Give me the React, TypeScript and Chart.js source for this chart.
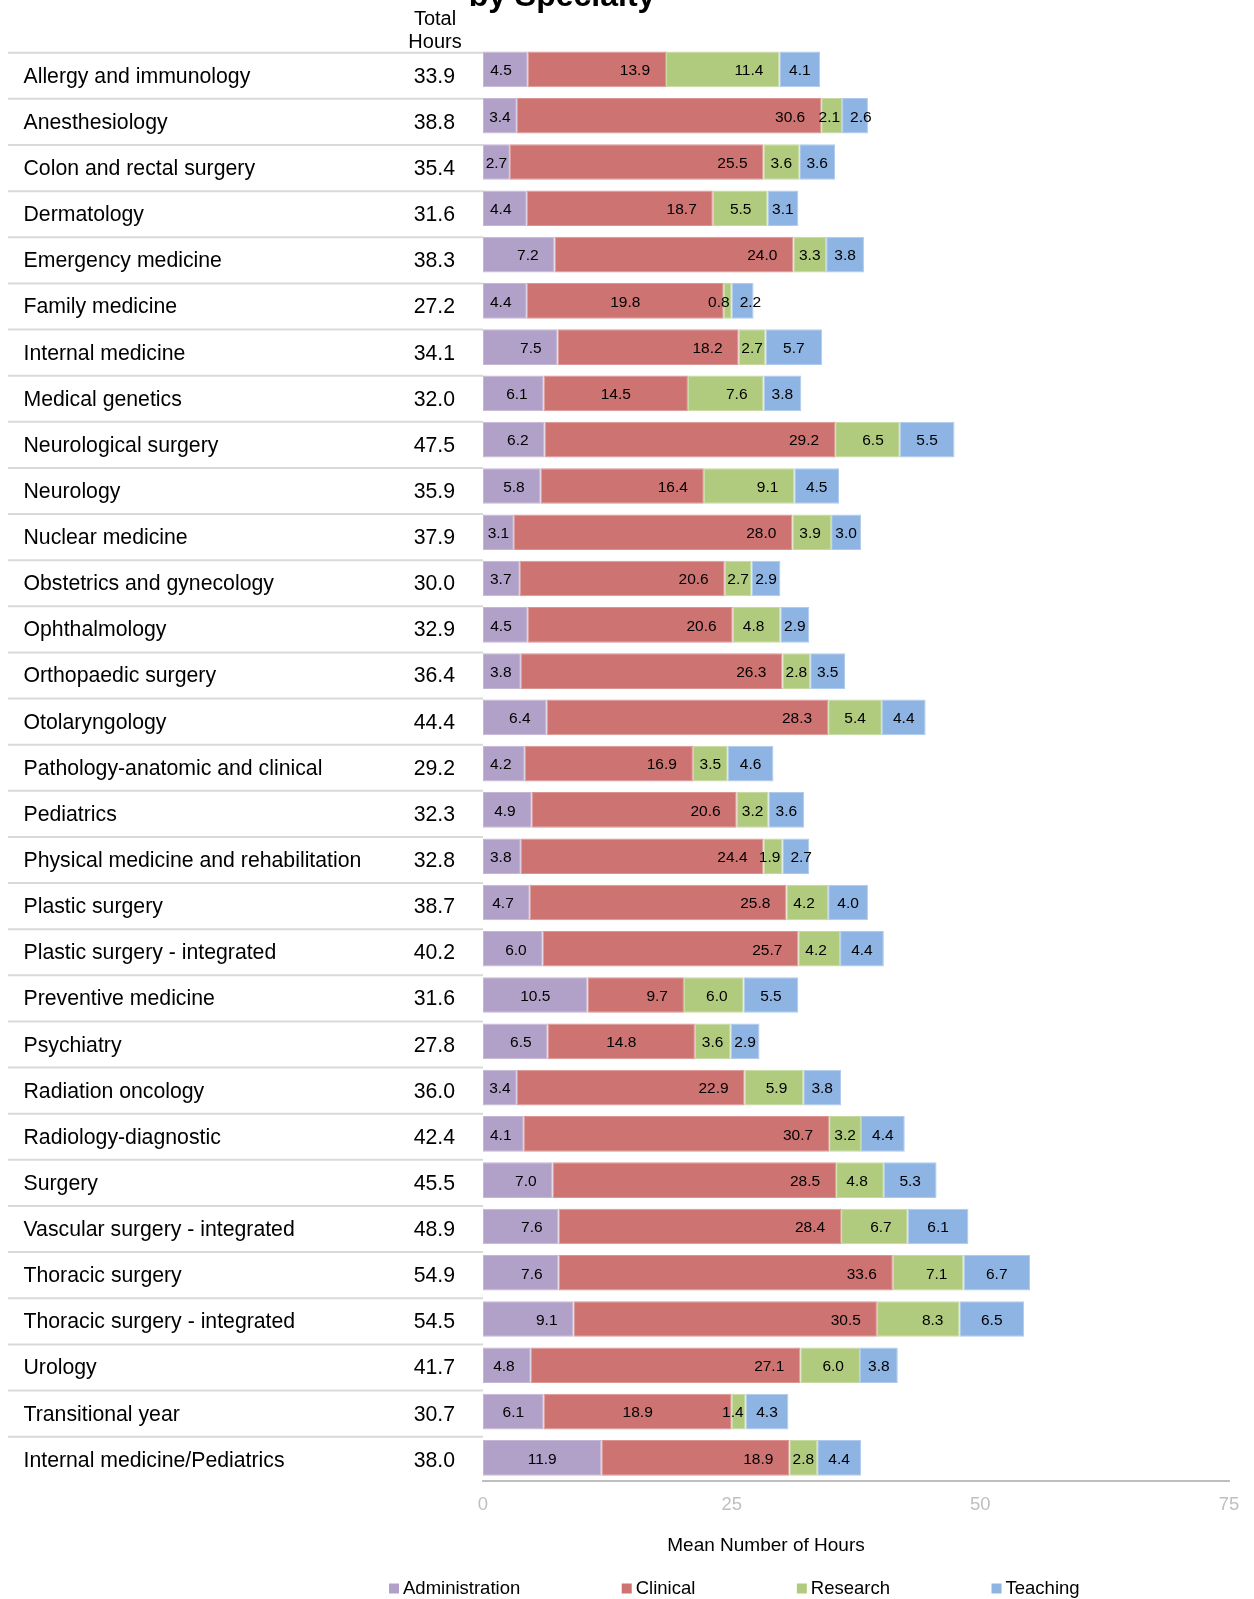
import React, { useEffect, useRef } from 'react';
import { Chart, registerables } from 'chart.js';

Chart.register(...registerables);

const categories = [
  'Allergy and immunology',
  'Anesthesiology',
  'Colon and rectal surgery',
  'Dermatology',
  'Emergency medicine',
  'Family medicine',
  'Internal medicine',
  'Medical genetics',
  'Neurological surgery',
  'Neurology',
  'Nuclear medicine',
  'Obstetrics and gynecology',
  'Ophthalmology',
  'Orthopaedic surgery',
  'Otolaryngology',
  'Pathology-anatomic and clinical',
  'Pediatrics',
  'Physical medicine and rehabilitation',
  'Plastic surgery',
  'Plastic surgery - integrated',
  'Preventive medicine',
  'Psychiatry',
  'Radiation oncology',
  'Radiology-diagnostic',
  'Surgery',
  'Vascular surgery - integrated',
  'Thoracic surgery',
  'Thoracic surgery - integrated',
  'Urology',
  'Transitional year',
  'Internal medicine/Pediatrics',
];

const totalHours = [
  33.9, 38.8, 35.4, 31.6, 38.3, 27.2, 34.1, 32.0, 47.5, 35.9, 37.9, 30.0, 32.9, 36.4, 44.4, 29.2,
  32.3, 32.8, 38.7, 40.2, 31.6, 27.8, 36.0, 42.4, 45.5, 48.9, 54.9, 54.5, 41.7, 30.7, 38.0,
];

const administration = [
  4.5, 3.4, 2.7, 4.4, 7.2, 4.4, 7.5, 6.1, 6.2, 5.8, 3.1, 3.7, 4.5, 3.8, 6.4, 4.2,
  4.9, 3.8, 4.7, 6.0, 10.5, 6.5, 3.4, 4.1, 7.0, 7.6, 7.6, 9.1, 4.8, 6.1, 11.9,
];

const clinical = [
  13.9, 30.6, 25.5, 18.7, 24.0, 19.8, 18.2, 14.5, 29.2, 16.4, 28.0, 20.6, 20.6, 26.3, 28.3, 16.9,
  20.6, 24.4, 25.8, 25.7, 9.7, 14.8, 22.9, 30.7, 28.5, 28.4, 33.6, 30.5, 27.1, 18.9, 18.9,
];

const research = [
  11.4, 2.1, 3.6, 5.5, 3.3, 0.8, 2.7, 7.6, 6.5, 9.1, 3.9, 2.7, 4.8, 2.8, 5.4, 3.5,
  3.2, 1.9, 4.2, 4.2, 6.0, 3.6, 5.9, 3.2, 4.8, 6.7, 7.1, 8.3, 6.0, 1.4, 2.8,
];

const teaching = [
  4.1, 2.6, 3.6, 3.1, 3.8, 2.2, 5.7, 3.8, 5.5, 4.5, 3.0, 2.9, 2.9, 3.5, 4.4, 4.6,
  3.6, 2.7, 4.0, 4.4, 5.5, 2.9, 3.8, 4.4, 5.3, 6.1, 6.7, 6.5, 3.8, 4.3, 4.4,
];

const xTicks = [0, 25, 50, 75];

const seriesNames = ['Administration', 'Clinical', 'Research', 'Teaching'];
const seriesValues = [administration, clinical, research, teaching];
const seriesColors = ['#B1A0C7', '#CD7371', '#B0CB7E', '#8EB4E3'];
const seriesBorders = ['#C4B7D6', '#DA9593', '#C6DAA0', '#AECAEC'];
const labelModes = ['end', 'end', 'end', 'center'];
// labels that sit centred in their segment instead of at the inside end
const centredLabels: Record<string, string[]> = {
  Administration: ['Preventive medicine', 'Transitional year', 'Internal medicine/Pediatrics'],
  Clinical: ['Family medicine', 'Medical genetics', 'Psychiatry', 'Transitional year'],
};

const chartTitle = 'by Specialty';
const headerLines = ['Total', 'Hours'];
const axisTitle = 'Mean Number of Hours';

const FONT = '"Liberation Sans", Arial, Helvetica, sans-serif';
const W = 1254;
const H = 1599;
const ROW_H = 46.13;

function rowTop(chart: any, i: number) {
  return chart.scales.y.getPixelForValue(0) - 16.7 + i * ROW_H;
}

const tablePlugin = {
  id: 'tablePlugin',
  beforeDatasetsDraw(chart: any) {
    const ctx = chart.ctx;
    const left = chart.chartArea.left;
    ctx.save();
    ctx.strokeStyle = '#D9D9D9';
    ctx.lineWidth = 2;
    for (let i = 0; i < categories.length; i++) {
      const yy = rowTop(chart, i);
      ctx.beginPath();
      ctx.moveTo(8, yy);
      ctx.lineTo(left, yy);
      ctx.stroke();
    }
    ctx.restore();
  },
  afterDatasetsDraw(chart: any) {
    const ctx = chart.ctx;
    ctx.save();
    ctx.font = `15.5px ${FONT}`;
    ctx.fillStyle = '#000000';
    ctx.textAlign = 'center';
    ctx.textBaseline = 'middle';
    chart.data.datasets.forEach((ds: any, di: number) => {
      const meta = chart.getDatasetMeta(di);
      const centred = centredLabels[seriesNames[di]] || [];
      meta.data.forEach((el: any, i: number) => {
        const p = el.getProps(['x', 'base', 'y'], true);
        const l = Math.min(p.x, p.base);
        const r = Math.max(p.x, p.base);
        const txt = Number(ds.data[i]).toFixed(1);
        const w = ctx.measureText(txt).width;
        let cx;
        if (labelModes[di] === 'center') {
          cx = r - l < w + 6 ? l + 8 + w / 2 : (l + r) / 2;
        } else if (centred.includes(categories[i])) {
          cx = (l + r) / 2;
        } else if (r - l < w + 1) {
          cx = r - 2 - w / 2;
        } else if (r - l < w + 14) {
          cx = (l + r) / 2;
        } else {
          cx = r - 16 - w / 2;
          if (cx - w / 2 < l + 7) cx = l + 7 + w / 2;
        }
        ctx.fillText(txt, cx, p.y + 1.5);
      });
    });
    ctx.font = `21.25px ${FONT}`;
    ctx.textBaseline = 'alphabetic';
    for (let i = 0; i < categories.length; i++) {
      const yy = rowTop(chart, i) + ROW_H / 2 + 7;
      ctx.textAlign = 'left';
      ctx.fillText(categories[i], 23.5, yy);
      ctx.textAlign = 'right';
      ctx.fillText(totalHours[i].toFixed(1), 455, yy);
    }
    ctx.restore();
  },
  afterDraw(chart: any) {
    const ctx = chart.ctx;
    ctx.save();
    ctx.fillStyle = '#000000';
    ctx.textBaseline = 'alphabetic';
    ctx.textAlign = 'center';
    ctx.font = `bold 32px ${FONT}`;
    ctx.fillText(chartTitle, 562, 6);
    ctx.font = `20px ${FONT}`;
    ctx.fillText(headerLines[0], 435, 24.7);
    ctx.fillText(headerLines[1], 435, 48);
    ctx.font = `19px ${FONT}`;
    ctx.textBaseline = 'middle';
    ctx.fillText(axisTitle, 766, 1546);
    ctx.font = `18.5px ${FONT}`;
    ctx.textAlign = 'left';
    ctx.textBaseline = 'alphabetic';
    let lx = 389;
    for (let k = 0; k < seriesNames.length; k++) {
      ctx.fillStyle = seriesColors[k];
      ctx.fillRect(lx, 1583.5, 10, 10);
      ctx.fillStyle = '#000000';
      ctx.fillText(seriesNames[k], lx + 14, 1594);
      lx += 14 + ctx.measureText(seriesNames[k]).width + 101.5;
    }
    ctx.restore();
  },
};

export default function App() {
  const ref = useRef<HTMLCanvasElement | null>(null);
  useEffect(() => {
    document.body.style.margin = '0';
    const canvas = ref.current;
    if (!canvas) return;
    const chart = new Chart(canvas, {
      type: 'bar',
      data: {
        labels: categories,
        datasets: seriesNames.map((name, k) => ({
          label: name,
          data: seriesValues[k],
          backgroundColor: seriesColors[k],
          borderColor: seriesBorders[k],
          borderWidth: 1,
          borderSkipped: false,
          barPercentage: 0.77,
          categoryPercentage: 1,
        })),
      },
      options: {
        indexAxis: 'y',
        responsive: false,
        animation: false,
        devicePixelRatio: 1,
        layout: { padding: { left: 483, right: 25, top: 46.3, bottom: 0 } },
        plugins: {
          legend: { display: false },
          tooltip: { enabled: false },
          title: { display: false },
        },
        scales: {
          x: {
            stacked: true,
            min: 0,
            max: 75,
            afterBuildTicks: (s: any) => {
              s.ticks = xTicks.map((v) => ({ value: v }));
            },
            afterFit: (s: any) => {
              s.height = 118;
            },
            grid: { display: false },
            border: { display: true, color: '#BFBFBF', width: 2 },
            ticks: {
              color: '#BFBFBF',
              font: { family: FONT, size: 18.5 },
              padding: 5,
              maxRotation: 0,
              autoSkip: false,
            },
          },
          y: {
            stacked: true,
            display: false,
          },
        },
      },
      plugins: [tablePlugin],
    } as any);
    return () => chart.destroy();
  }, []);
  return (
    <div style={{ width: W, height: H, position: 'relative', background: '#fff' }}>
      <canvas ref={ref} width={W} height={H} style={{ width: W, height: H, display: 'block' }} />
    </div>
  );
}
